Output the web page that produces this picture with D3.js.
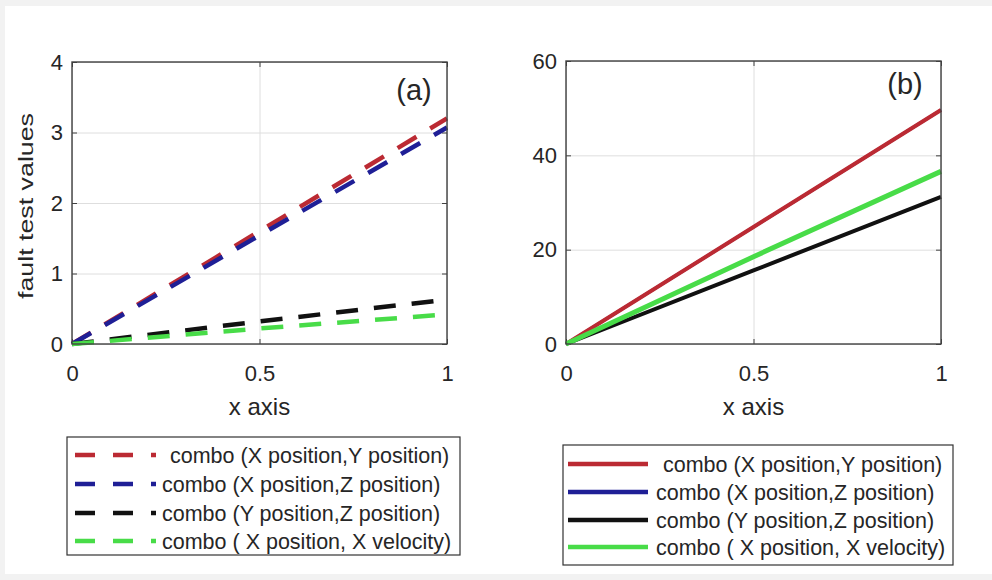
<!DOCTYPE html>
<html>
<head>
<meta charset="utf-8">
<script src="https://cdn.jsdelivr.net/npm/d3@7"></script>
<style>
  html, body { margin: 0; padding: 0; background: #f2f2f2; }
  svg { display: block; }
  text { font-family: "Liberation Sans", Arial, sans-serif; fill: #262626; }
</style>
</head>
<body>
<svg id="chart" width="992" height="580"></svg>
<script>
// ---------- data ----------
const xValues = [0, 0.5, 1];
const seriesNames = [
  "combo (X position,Y position)",
  "combo (X position,Z position)",
  "combo (Y position,Z position)",
  "combo ( X position, X velocity)"
];
const seriesColors = ["#bb2a33", "#1f1f96", "#111111", "#48dc48"];
// panel (a) values
const aXY = [0, 1.6, 3.2];
const aXZ = [0, 1.54, 3.07];
const aYZ = [0, 0.32, 0.63];
const aXV = [0, 0.22, 0.42];
// panel (b) values
const bXY = [0, 24.8, 49.6];
const bXZ = [0, 24.8, 49.6];
const bYZ = [0, 15.6, 31.2];
const bXV = [0, 18.5, 36.6];
const xTicks = [0, 0.5, 1];
const xTickLabels = ["0", "0.5", "1"];
const aYTicks = [0, 1, 2, 3, 4];
const bYTicks = [0, 20, 40, 60];

const svg = d3.select("#chart");
svg.append("rect").attr("x", 5).attr("y", 6).attr("width", 987).attr("height", 568).attr("fill", "#ffffff");

function panel(cfg) {
  const w = cfg.right - cfg.left, h = cfg.bottom - cfg.top;
  const x = d3.scaleLinear().domain([0, 1]).range([0, w]);
  const y = d3.scaleLinear().domain(cfg.yDomain).range([h, 0]);
  const g = svg.append("g").attr("transform", `translate(${cfg.left},${cfg.top})`);

  // grid
  const gy = g.append("g").call(d3.axisLeft(y).tickValues(cfg.yTicks).tickSize(-w).tickFormat(""));
  const gx = g.append("g").attr("transform", `translate(0,${h})`)
    .call(d3.axisBottom(x).tickValues(xTicks).tickSize(-h).tickFormat(""));
  [gy, gx].forEach(a => { a.select(".domain").remove(); a.selectAll("line").attr("stroke", "#dedede").attr("stroke-width", 1); });

  // inner ticks + labels
  const ay = g.append("g").call(d3.axisLeft(y).tickValues(cfg.yTicks).tickSize(-5).tickPadding(9).tickFormat(d3.format("d")));
  const ax = g.append("g").attr("transform", `translate(0,${h})`)
    .call(d3.axisBottom(x).tickValues(xTicks).tickSize(-5).tickPadding(21).tickFormat((d, i) => xTickLabels[i]));
  const ayr = g.append("g").attr("transform", `translate(${w},0)`).call(d3.axisRight(y).tickValues(cfg.yTicks).tickSize(-5).tickFormat(""));
  const axt = g.append("g").call(d3.axisTop(x).tickValues(xTicks).tickSize(-5).tickFormat(""));
  [ay, ax, ayr, axt].forEach(a => {
    a.select(".domain").remove();
    a.selectAll("line").attr("stroke", "#404040").attr("stroke-width", 1);
    a.selectAll("text").attr("font-size", 22).attr("fill", "#262626").attr("font-family", "Liberation Sans, Arial, sans-serif");
  });

  // lines
  const line = d3.line().x((d, i) => x(xValues[i])).y(d => y(d));
  cfg.series.forEach(s => {
    g.append("path").datum(s.values).attr("d", line)
      .attr("fill", "none").attr("stroke", s.color).attr("stroke-width", s.width)
      .attr("stroke-dasharray", cfg.dashed ? "22,16" : null);
  });

  // box
  g.append("rect").attr("width", w).attr("height", h).attr("fill", "none")
    .attr("stroke", "#404040").attr("stroke-width", 1.4);

  // panel label
  g.append("text").attr("x", cfg.tagX - cfg.left).attr("y", cfg.tagY - cfg.top)
    .attr("text-anchor", "middle").attr("dy", "0.35em").attr("font-size", 29).text(cfg.tag);

  // x label
  g.append("text").attr("x", w / 2).attr("y", 415 - cfg.top).attr("text-anchor", "middle")
    .attr("font-size", 24).text("x axis");
  return { x, y, g };
}

panel({
  left: 72, right: 447, top: 62, bottom: 344, yDomain: [0, 4], yTicks: aYTicks, dashed: true,
  tag: "(a)", tagX: 414, tagY: 90,
  series: [
    { values: aXY, color: seriesColors[0], width: 4.5 },
    { values: aXZ, color: seriesColors[1], width: 4.5 },
    { values: aYZ, color: seriesColors[2], width: 4.5 },
    { values: aXV, color: seriesColors[3], width: 4.5 }
  ]
});
panel({
  left: 566, right: 941, top: 61, bottom: 344, yDomain: [0, 60], yTicks: bYTicks, dashed: false,
  tag: "(b)", tagX: 905, tagY: 84,
  series: [
    { values: bXZ, color: seriesColors[1], width: 3 },
    { values: bXY, color: seriesColors[0], width: 4 },
    { values: bYZ, color: seriesColors[2], width: 4 },
    { values: bXV, color: seriesColors[3], width: 5 }
  ]
});

// y label
svg.append("text").attr("transform", "translate(33,206) rotate(-90)")
  .attr("text-anchor", "middle").attr("font-size", 20)
  .attr("textLength", 186).attr("lengthAdjust", "spacingAndGlyphs")
  .text("fault test values");

// legends
function legend(cfg) {
  svg.append("rect").attr("x", cfg.x0).attr("y", cfg.y0).attr("width", cfg.x1 - cfg.x0).attr("height", cfg.y1 - cfg.y0)
    .attr("fill", "#ffffff").attr("stroke", "#333333").attr("stroke-width", 1.2);
  seriesNames.forEach((name, i) => {
    const cy = cfg.rows[i];
    svg.append("line").attr("x1", cfg.lx0).attr("x2", cfg.lx1).attr("y1", cy).attr("y2", cy)
      .attr("stroke", seriesColors[i]).attr("stroke-width", 4.5)
      .attr("stroke-dasharray", cfg.dashed ? "20,18" : null);
    svg.append("text").attr("x", i === 0 ? cfg.tx0 : cfg.tx).attr("y", cy).attr("dy", "0.36em")
      .attr("font-size", 21.5).text(name);
  });
}
legend({ x0: 67, x1: 460, y0: 437, y1: 555, lx0: 75, lx1: 156, tx0: 170, tx: 162,
  rows: [455, 484, 513, 541], dashed: true });
legend({ x0: 563, x1: 953, y0: 445, y1: 565, lx0: 568, lx1: 648, tx0: 663, tx: 656,
  rows: [464, 492, 520, 547], dashed: false });
</script>
</body>
</html>
